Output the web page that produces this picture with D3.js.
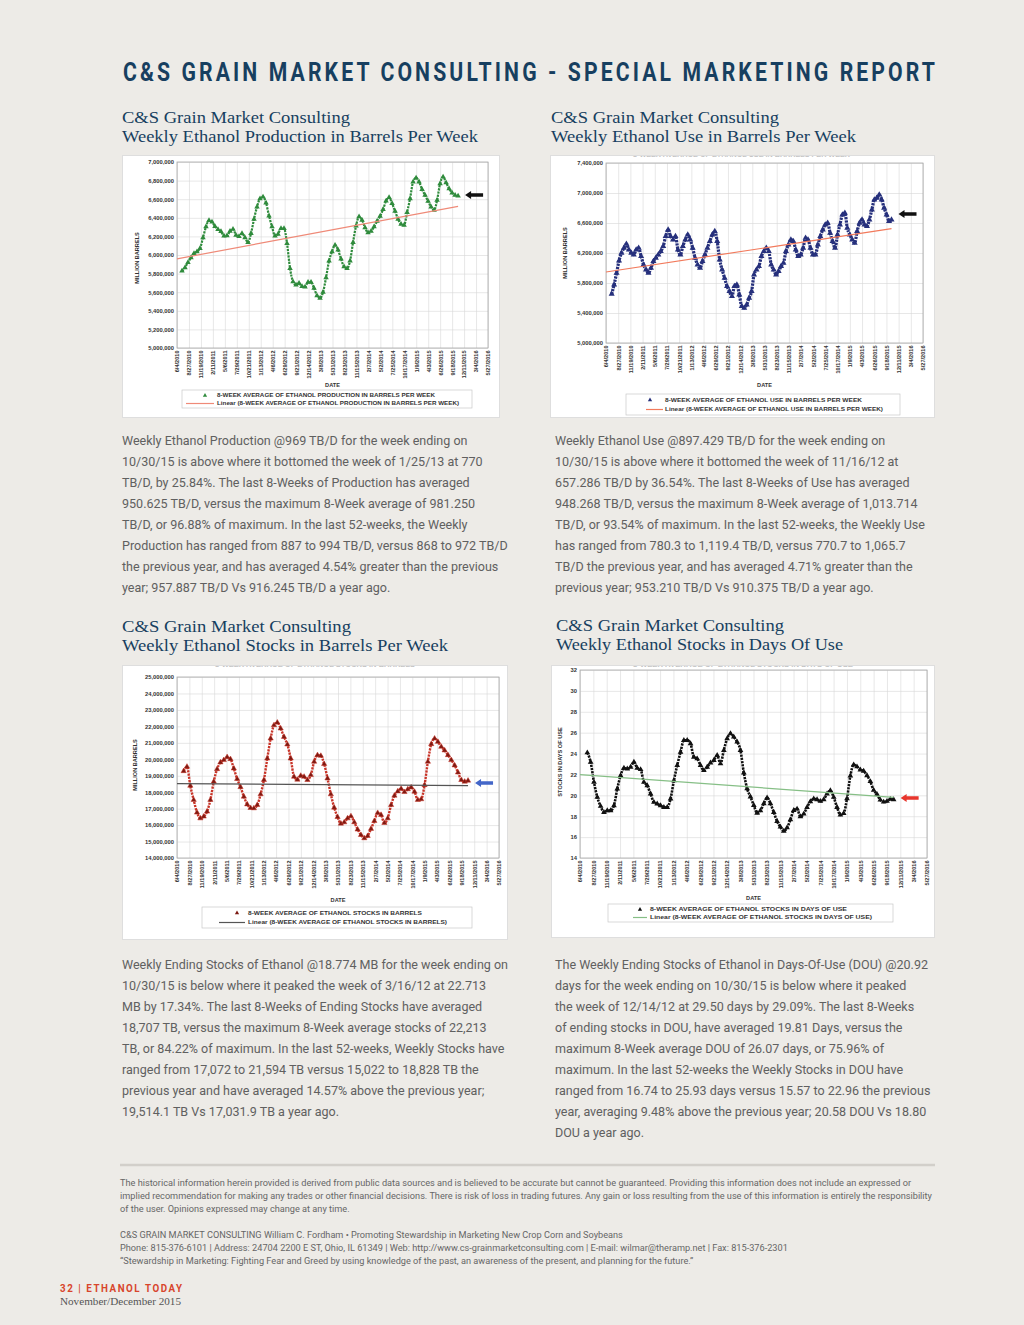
<!DOCTYPE html>
<html>
<head>
<meta charset="utf-8">
<script src="https://cdn.jsdelivr.net/npm/d3@7"></script>
<style>
  body { margin: 0; background: #edebe7; }
  svg { display: block; }
</style>
</head>
<body>
<svg id="page" width="1024" height="1325"></svg>
<script>
// ---- data ----
const dateTicks = ['6/4/2010', '8/27/2010', '11/19/2010', '2/11/2011', '5/6/2011', '7/29/2011', '10/21/2011',
    '1/13/2012', '4/6/2012', '6/29/2012', '9/21/2012', '12/14/2012', '3/8/2013', '5/31/2013', '8/23/2013',
    '11/15/2013', '2/7/2014', '5/2/2014', '7/25/2014', '10/17/2014', '1/9/2015', '4/3/2015', '6/26/2015',
    '9/18/2015', '12/11/2015', '3/4/2016', '5/27/2016'];

// 8-week average production, million barrels per week
const prodStart = '7/9/2010', prodEnd = '10/30/2015';
const prodValues = [5.829, 5.864, 5.921, 5.971, 6.018, 6.036, 6.071, 6.186, 6.304, 6.371,
    6.357, 6.307, 6.275, 6.254, 6.204, 6.207, 6.257, 6.279, 6.214, 6.200,
    6.232, 6.186, 6.136, 6.232, 6.386, 6.518, 6.607, 6.625, 6.561, 6.421,
    6.304, 6.204, 6.225, 6.286, 6.286, 6.125, 5.857, 5.714, 5.679, 5.696,
    5.661, 5.657, 5.707, 5.707, 5.643, 5.564, 5.536, 5.600, 5.757, 5.936,
    6.036, 6.107, 6.054, 5.957, 5.875, 5.857, 5.936, 6.136, 6.314, 6.411,
    6.375, 6.293, 6.239, 6.257, 6.304, 6.364, 6.418, 6.489, 6.582, 6.618,
    6.554, 6.471, 6.386, 6.332, 6.321, 6.457, 6.607, 6.786, 6.829, 6.786,
    6.704, 6.643, 6.579, 6.518, 6.482, 6.589, 6.768, 6.839, 6.779, 6.714,
    6.668, 6.643, 6.636];
const prodTicks = [5.0, 5.2, 5.4, 5.6, 5.8, 6.0, 6.2, 6.4, 6.6, 6.8, 7.0];

// 8-week average use, million barrels per week
const useStart = '7/13/2010', useEnd = '10/23/2015';
const useValues = [5.653, 5.778, 5.933, 6.098, 6.200, 6.267, 6.320, 6.244, 6.200, 6.178,
    6.244, 6.267, 6.156, 6.044, 5.978, 5.933, 6.000, 6.089, 6.133, 6.178,
    6.222, 6.289, 6.422, 6.511, 6.422, 6.378, 6.422, 6.244, 6.178, 6.289,
    6.378, 6.444, 6.378, 6.267, 6.133, 6.044, 6.000, 6.089, 6.178, 6.267,
    6.356, 6.444, 6.489, 6.356, 6.111, 5.978, 5.867, 5.756, 5.689, 5.622,
    5.756, 5.778, 5.644, 5.489, 5.467, 5.511, 5.600, 5.689, 5.911, 5.978,
    6.022, 6.156, 6.222, 6.267, 6.222, 6.044, 5.978, 5.911, 5.956, 6.022,
    6.067, 6.222, 6.311, 6.378, 6.356, 6.244, 6.156, 6.178, 6.267, 6.400,
    6.378, 6.267, 6.178, 6.178, 6.311, 6.422, 6.511, 6.578, 6.600, 6.467,
    6.356, 6.267, 6.444, 6.578, 6.711, 6.733, 6.533, 6.444, 6.378, 6.333,
    6.489, 6.600, 6.644, 6.578, 6.556, 6.644, 6.778, 6.911, 6.933, 6.978,
    6.911, 6.800, 6.711, 6.622, 6.644];
const useTicks = [5.0, 5.4, 5.8, 6.2, 6.6, 7.0, 7.4];

// 8-week average ending stocks, million barrels
const stockStart = '7/19/2010', stockEnd = '10/30/2015';
const stockValues = [19.28, 19.55, 18.39, 17.53, 16.76, 16.41, 16.52, 16.82, 17.53, 18.64,
    19.40, 19.81, 19.95, 20.13, 20.01, 19.44, 18.80, 18.31, 17.73, 17.26,
    17.04, 17.02, 17.22, 17.87, 18.74, 20.05, 21.26, 22.07, 22.23, 21.87,
    21.36, 20.90, 20.05, 18.94, 18.76, 19.00, 18.94, 18.74, 19.04, 19.85,
    20.25, 20.21, 19.71, 18.84, 17.87, 17.06, 16.49, 16.09, 16.17, 16.41,
    16.54, 16.17, 15.73, 15.40, 15.20, 15.34, 15.77, 16.25, 16.74, 16.62,
    16.13, 16.41, 17.22, 17.79, 18.05, 18.21, 18.01, 18.18, 18.29, 18.03,
    17.53, 17.57, 18.43, 19.85, 20.92, 21.26, 21.06, 20.76, 20.54, 20.25,
    19.95, 19.63, 19.20, 18.74, 18.64, 18.70];
const stockTicks = [14, 15, 16, 17, 18, 19, 20, 21, 22, 23, 24, 25];

// 8-week average stocks in days of use
const douStart = '7/20/2010', douEnd = '10/30/2015';
const douValues = [24.08, 23.19, 21.26, 19.82, 18.96, 18.38, 18.54, 18.54, 19.02, 20.62,
    21.90, 22.61, 22.54, 22.71, 23.19, 22.61, 22.48, 21.26, 20.94, 20.14,
    19.34, 19.18, 19.02, 18.86, 18.86, 19.66, 21.42, 22.87, 24.15, 25.27,
    25.27, 24.95, 23.67, 23.51, 22.87, 22.38, 22.71, 23.12, 23.35, 23.83,
    23.03, 24.31, 25.43, 25.91, 25.59, 25.11, 24.31, 22.16, 20.65, 19.85,
    19.05, 18.31, 18.54, 19.21, 19.76, 19.21, 18.38, 17.51, 16.97, 16.58,
    16.90, 17.67, 18.57, 18.70, 17.96, 18.22, 18.86, 19.40, 19.66, 19.59,
    19.44, 19.59, 20.14, 20.46, 19.82, 18.86, 18.12, 18.28, 19.69, 21.87,
    22.93, 22.74, 22.45, 22.32, 21.90, 21.33, 20.49, 20.11, 19.56, 19.37,
    19.44, 19.63, 19.60];
const douTicks = [14, 16, 18, 20, 22, 24, 26, 28, 30, 32];

// level of the arrow beside each chart
const arrowLevels = [6.645, 6.72, 18.56, 19.74];

// ---- page text ----
const headerText = 'C&S GRAIN MARKET CONSULTING - SPECIAL MARKETING REPORT';
const leftTop = [
    'Weekly Ethanol Production @969 TB/D for the week ending on',
    '10/30/15 is above where it bottomed the week of 1/25/13 at 770',
    'TB/D, by 25.84%. The last 8-Weeks of Production has averaged',
    '950.625 TB/D, versus the maximum 8-Week average of 981.250',
    'TB/D, or 96.88% of maximum. In the last 52-weeks, the Weekly',
    'Production has ranged from 887 to 994 TB/D, versus 868 to 972 TB/D',
    'the previous year, and has averaged 4.54% greater than the previous',
    'year; 957.887 TB/D Vs 916.245 TB/D a year ago.'];
const rightTop = [
    'Weekly Ethanol Use @897.429 TB/D for the week ending on',
    '10/30/15 is above where it bottomed the week of 11/16/12 at',
    '657.286 TB/D by 36.54%. The last 8-Weeks of Use has averaged',
    '948.268 TB/D, versus the maximum 8-Week average of 1,013.714',
    'TB/D, or 93.54% of maximum. In the last 52-weeks, the Weekly Use',
    'has ranged from 780.3 to 1,119.4 TB/D, versus 770.7 to 1,065.7',
    'TB/D the previous year, and has averaged 4.71% greater than the',
    'previous year; 953.210 TB/D Vs 910.375 TB/D a year ago.'];
const leftBottom = [
    'Weekly Ending Stocks of Ethanol @18.774 MB for the week ending on',
    '10/30/15 is below where it peaked the week of 3/16/12 at 22.713',
    'MB by 17.34%. The last 8-Weeks of Ending Stocks have averaged',
    '18,707 TB, versus the maximum 8-Week average stocks of 22,213',
    'TB, or 84.22% of maximum. In the last 52-weeks, Weekly Stocks have',
    'ranged from 17,072 to 21,594 TB versus 15,022 to 18,828 TB the',
    'previous year and have averaged 14.57% above the previous year;',
    '19,514.1 TB Vs 17,031.9 TB a year ago.'];
const rightBottom = [
    'The Weekly Ending Stocks of Ethanol in Days-Of-Use (DOU) @20.92',
    'days for the week ending on 10/30/15 is below where it peaked',
    'the week of 12/14/12 at 29.50 days by 29.09%. The last 8-Weeks',
    'of ending stocks in DOU, have averaged 19.81 Days, versus the',
    'maximum 8-Week average DOU of 26.07 days, or 75.96% of',
    'maximum. In the last 52-weeks the Weekly Stocks in DOU have',
    'ranged from 16.74 to 25.93 days versus 15.57 to 22.96 the previous',
    'year, averaging 9.48% above the previous year; 20.58 DOU Vs 18.80',
    'DOU a year ago.'];
const footerLines = [
    'The historical information herein provided is derived from public data sources and is believed to be accurate but cannot be guaranteed. Providing this information does not include an expressed or',
    'implied recommendation for making any trades or other financial decisions. There is risk of loss in trading futures. Any gain or loss resulting from the use of this information is entirely the responsibility',
    'of the user. Opinions expressed may change at any time.',
    '',
    'C&S GRAIN MARKET CONSULTING William C. Fordham \u2022 Promoting Stewardship in Marketing New Crop Corn and Soybeans',
    'Phone: 815-376-6101 | Address: 24704 2200 E ST, Ohio, IL 61349 | Web: http://www.cs-grainmarketconsulting.com | E-mail: wilmar@theramp.net | Fax: 815-376-2301',
    '\u201cStewardship in Marketing: Fighting Fear and Greed by using knowledge of the past, an awareness of the present, and planning for the future.\u201d'];

const SANS = '"Liberation Sans", Arial, sans-serif';
const BODY = 'Roboto, "Liberation Sans", sans-serif';
const SERIF = '"Liberation Serif", "Times New Roman", serif';
const NAVY = '#173f60';

const parse = d3.timeParse('%-m/%-d/%Y');
const svg = d3.select('#page');
const defs = svg.append('defs');

svg.append('rect').attr('width', 1024).attr('height', 1325).attr('fill', '#edebe7');

// header, drawn condensed
svg.append('g')
    .attr('transform', 'translate(123,81) scale(0.8,1)')
    .append('text')
    .attr('font-family', 'Roboto, sans-serif')
    .attr('font-weight', 700)
    .attr('font-size', 26.5)
    .attr('fill', NAVY)
    .attr('textLength', 812 / 0.8)
    .attr('lengthAdjust', 'spacing')
    .text(headerText);

function drawTitle(x, y, lines, widths) {
    lines.forEach((t, i) => {
        svg.append('text')
            .attr('x', x).attr('y', y + i * 19)
            .attr('font-family', SERIF).attr('font-size', 17)
            .attr('fill', NAVY)
            .attr('textLength', widths[i]).attr('lengthAdjust', 'spacingAndGlyphs')
            .text(t);
    });
}

function drawChart(c) {
    const clipId = 'clip-' + c.id;
    defs.append('clipPath').attr('id', clipId)
        .append('rect').attr('x', c.box.x).attr('y', c.box.y).attr('width', c.box.w).attr('height', c.box.h);

    const g = svg.append('g').attr('clip-path', `url(#${clipId})`);
    g.append('rect')
        .attr('x', c.box.x).attr('y', c.box.y).attr('width', c.box.w).attr('height', c.box.h)
        .attr('fill', '#fff');

    if (c.ghost) {
        g.append('text')
            .attr('x', c.ghost.x).attr('y', c.box.y + 1.5)
            .attr('font-family', SANS).attr('font-weight', 700).attr('font-size', 8)
            .attr('fill', '#c4c4c4')
            .attr('textLength', c.ghost.w).attr('lengthAdjust', 'spacingAndGlyphs')
            .text(c.legend[0]);
    }

    const p = c.plot;
    const x = d3.scaleTime()
        .domain([parse(dateTicks[0]), parse(dateTicks[dateTicks.length - 1])])
        .range([p.x, p.x + p.w]);
    const y = d3.scaleLinear()
        .domain(d3.extent(c.ticks))
        .range([p.y + p.h, p.y]);

    // y axis with horizontal grid
    const ya = g.append('g')
        .attr('transform', `translate(${p.x},0)`)
        .call(d3.axisLeft(y).tickValues(c.ticks).tickSize(-p.w).tickPadding(3).tickFormat(c.fmt));
    ya.select('.domain').remove();
    ya.selectAll('line').attr('stroke', '#d7d7d7').attr('stroke-width', 0.6);
    ya.selectAll('text')
        .attr('font-family', SANS).attr('font-weight', 700).attr('font-size', 5.8).attr('fill', '#333');

    // x axis with vertical grid, rotated date labels
    const xa = g.append('g')
        .attr('transform', `translate(0,${p.y + p.h})`)
        .call(d3.axisBottom(x).tickValues(dateTicks.map(parse)).tickSize(-p.h).tickFormat((d, i) => dateTicks[i]));
    xa.select('.domain').remove();
    xa.selectAll('line').attr('stroke', '#d7d7d7').attr('stroke-width', 0.6);
    xa.selectAll('text')
        .attr('transform', 'rotate(-90)')
        .attr('x', -2.5).attr('y', 0).attr('dy', '0.34em')
        .style('text-anchor', 'end')
        .attr('font-family', SANS).attr('font-weight', 700).attr('font-size', 5.6).attr('fill', '#333');

    g.append('rect')
        .attr('x', p.x).attr('y', p.y).attr('width', p.w).attr('height', p.h)
        .attr('fill', 'none').attr('stroke', '#a8a8a8').attr('stroke-width', 0.8);

    // axis titles
    g.append('text')
        .attr('transform', `translate(${c.yTitle.x},${c.yTitle.y}) rotate(-90)`)
        .attr('text-anchor', 'middle').attr('dy', '0.35em')
        .attr('font-family', SANS).attr('font-weight', 700).attr('font-size', 5.6).attr('fill', '#333')
        .text(c.yLabel);
    g.append('text')
        .attr('x', p.x + p.w / 2).attr('y', c.dateY)
        .attr('text-anchor', 'middle').attr('dy', '0.35em')
        .attr('font-family', SANS).attr('font-weight', 700).attr('font-size', 5.6).attr('fill', '#333')
        .text('DATE');

    // series, evenly spaced between first and last week read
    const t0 = parse(c.start).getTime();
    const t1 = parse(c.end).getTime();
    const pts = c.values.map((v, i) => ({ t: new Date(t0 + (t1 - t0) * i / (c.values.length - 1)), v }));

    // least-squares trend, as the spreadsheet "Linear" trendline
    const mt = d3.mean(pts, d => +d.t);
    const mv = d3.mean(pts, d => d.v);
    const slope = d3.sum(pts, d => (d.t - mt) * (d.v - mv)) / d3.sum(pts, d => (d.t - mt) ** 2);
    const fit = t => mv + slope * (t - mt);

    // dense weekly markers read as a thick band; a line keeps it joined up
    g.append('path')
        .datum(pts)
        .attr('d', d3.line().x(d => x(d.t)).y(d => y(d.v)).curve(d3.curveMonotoneX))
        .attr('fill', 'none')
        .attr('stroke', c.markerStroke || c.marker)
        .attr('stroke-width', c.lineW)
        .attr('stroke-dasharray', '2.2,1')
        .attr('stroke-linejoin', 'round');

    const tri = d3.symbol().type(d3.symbolTriangle).size(c.markerSize);
    g.append('g').selectAll('path')
        .data(pts)
        .join('path')
        .attr('transform', d => `translate(${x(d.t)},${y(d.v)})`)
        .attr('d', tri)
        .attr('fill', c.marker)
        .attr('stroke', c.markerStroke || 'none')
        .attr('stroke-width', 0.5);

    const tA = x.domain()[0];
    const tB = pts[pts.length - 1].t;
    g.append('line')
        .attr('x1', x(tA)).attr('y1', y(fit(+tA)))
        .attr('x2', x(tB)).attr('y2', y(fit(+tB)))
        .attr('stroke', c.trend).attr('stroke-width', 1.2);

    // arrow pointing at the latest reading
    const ax = x(tB) + 7;
    const ay = y(c.arrowLevel);
    g.append('path')
        .attr('d', `M${ax},${ay} l6,-4 v2.2 h12 v3.6 h-12 v2.2 Z`)
        .attr('fill', c.arrow);

    // legend
    const L = c.leg;
    g.append('rect')
        .attr('x', L.x).attr('y', L.y).attr('width', L.w).attr('height', L.h)
        .attr('fill', '#fff').attr('stroke', '#c8c8c8').attr('stroke-width', 0.7);
    g.append('path')
        .attr('transform', `translate(${L.mx},${L.rows[0]})`)
        .attr('d', d3.symbol().type(d3.symbolTriangle).size(8))
        .attr('fill', c.marker);
    g.append('line')
        .attr('x1', L.lx[0]).attr('x2', L.lx[1]).attr('y1', L.rows[1]).attr('y2', L.rows[1])
        .attr('stroke', c.trend).attr('stroke-width', 1.2);
    [c.legend[0], 'Linear (' + c.legend[0] + ')'].forEach((t, i) => {
        g.append('text')
            .attr('x', L.tx).attr('y', L.rows[i]).attr('dy', '0.35em')
            .attr('font-family', SANS).attr('font-weight', 700).attr('font-size', 5.6).attr('fill', '#333')
            .attr('textLength', L.tw[i]).attr('lengthAdjust', 'spacingAndGlyphs')
            .text(t);
    });

    g.append('rect')
        .attr('x', c.box.x + 0.5).attr('y', c.box.y + 0.5).attr('width', c.box.w - 1).attr('height', c.box.h - 1)
        .attr('fill', 'none').attr('stroke', '#dedede').attr('stroke-width', 1);
}

const barrels = d => d3.format(',')(Math.round(d * 1e6));

drawTitle(122, 122.5, ['C&S Grain Market Consulting', 'Weekly Ethanol Production in Barrels Per Week'], [228, 356]);
drawTitle(551, 122.5, ['C&S Grain Market Consulting', 'Weekly Ethanol Use in Barrels Per Week'], [228, 305]);
drawTitle(122, 632, ['C&S Grain Market Consulting', 'Weekly Ethanol Stocks in Barrels Per Week'], [229, 326]);
drawTitle(556, 631, ['C&S Grain Market Consulting', 'Weekly Ethanol Stocks in Days Of Use'], [228, 287]);

drawChart({
    id: 'prod', box: { x: 122, y: 155, w: 378, h: 263 }, plot: { x: 177, y: 162, w: 311, h: 186 },
    values: prodValues, start: prodStart, end: prodEnd, ticks: prodTicks, fmt: barrels,
    yLabel: 'MILLION BARRELS', yTitle: { x: 137, y: 258 }, dateY: 385,
    marker: '#2f8b3c', markerSize: 13, lineW: 2.2, trend: '#ef8a78', arrow: '#111', arrowLevel: arrowLevels[0],
    legend: ['8-WEEK AVERAGE OF ETHANOL PRODUCTION IN BARRELS PER WEEK'],
    leg: { x: 182, y: 390, w: 290, h: 18, mx: 205, lx: [186, 214], tx: 217, rows: [395.5, 403.5], tw: [218, 242] }
});
drawChart({
    id: 'use', box: { x: 550, y: 155, w: 385, h: 263 }, plot: { x: 606, y: 163, w: 317, h: 180 },
    values: useValues, start: useStart, end: useEnd, ticks: useTicks, fmt: barrels,
    yLabel: 'MILLION BARRELS', yTitle: { x: 565, y: 253 }, dateY: 385,
    marker: '#26307c', markerSize: 16, lineW: 3.2, trend: '#f27a5c', arrow: '#111', arrowLevel: arrowLevels[1],
    legend: ['8-WEEK AVERAGE OF ETHANOL USE IN BARRELS PER WEEK'],
    ghost: { x: 633, w: 217 },
    leg: { x: 626, y: 394, w: 274, h: 21, mx: 650, lx: [646, 663], tx: 665, rows: [400, 409.5], tw: [197, 218] }
});
drawChart({
    id: 'stock', box: { x: 122, y: 665, w: 386, h: 275 }, plot: { x: 177, y: 677, w: 322, h: 181 },
    values: stockValues, start: stockStart, end: stockEnd, ticks: stockTicks, fmt: barrels,
    yLabel: 'MILLION BARRELS', yTitle: { x: 135, y: 765 }, dateY: 900,
    marker: '#7c1a12', markerStroke: '#c83428', markerSize: 12, lineW: 2.4, trend: '#555', arrow: '#4366c8',
    arrowLevel: arrowLevels[2],
    legend: ['8-WEEK AVERAGE OF ETHANOL STOCKS IN BARRELS'],
    ghost: { x: 215, w: 200 },
    leg: { x: 202, y: 907, w: 270, h: 21, mx: 237, lx: [219, 245], tx: 248, rows: [913, 922.5], tw: [174, 199] }
});
drawChart({
    id: 'dou', box: { x: 551, y: 665, w: 384, h: 273 }, plot: { x: 580, y: 670, w: 347, h: 188 },
    values: douValues, start: douStart, end: douEnd, ticks: douTicks, fmt: d3.format('d'),
    yLabel: 'STOCKS IN DAYS OF USE', yTitle: { x: 560, y: 762 }, dateY: 898,
    marker: '#111', markerSize: 14, lineW: 2.6, trend: '#86bf86', arrow: '#e8352c', arrowLevel: arrowLevels[3],
    legend: ['8-WEEK AVERAGE OF ETHANOL STOCKS IN DAYS OF USE'],
    ghost: { x: 633, w: 220 },
    leg: { x: 608, y: 904, w: 285, h: 18, mx: 640, lx: [633, 647], tx: 650, rows: [909.5, 917.5], tw: [197, 222] }
});

// body paragraphs: size the font so the widest line matches the page
const probe = svg.append('text').attr('font-family', BODY).attr('font-size', 12).text(leftTop[5]);
const bodySize = 12 * 386 / probe.node().getComputedTextLength();
probe.remove();

function paragraph(lines, x, y0) {
    svg.append('g').selectAll('text')
        .data(lines)
        .join('text')
        .attr('x', x).attr('y', (d, i) => y0 + i * 21.05)
        .attr('font-family', BODY).attr('font-size', bodySize).attr('fill', '#606060')
        .text(d => d);
}
paragraph(leftTop, 122, 444.5);
paragraph(rightTop, 555, 444.5);
paragraph(leftBottom, 122, 968.5);
paragraph(rightBottom, 555, 968.5);

// footer
svg.append('line')
    .attr('x1', 120).attr('x2', 935).attr('y1', 1165).attr('y2', 1165)
    .attr('stroke', '#d2cfca').attr('stroke-width', 2.5);

const fprobe = svg.append('text').attr('font-family', BODY).attr('font-size', 9).text(footerLines[1]);
const footSize = 9 * 813 / fprobe.node().getComputedTextLength();
fprobe.remove();
svg.append('g').selectAll('text')
    .data(footerLines)
    .join('text')
    .attr('x', 120).attr('y', (d, i) => 1186 + i * 13)
    .attr('font-family', BODY).attr('font-size', footSize).attr('fill', '#666')
    .text(d => d);

svg.append('g')
    .attr('transform', 'translate(60,1292) scale(0.85,1)')
    .append('text')
    .attr('font-family', 'Roboto, sans-serif').attr('font-weight', 700).attr('font-size', 11.5)
    .attr('fill', '#d8452b')
    .attr('textLength', 122 / 0.85).attr('lengthAdjust', 'spacing')
    .text('32 | ETHANOL TODAY');
svg.append('text')
    .attr('x', 60).attr('y', 1305)
    .attr('font-family', SERIF).attr('font-size', 11).attr('fill', '#555')
    .attr('textLength', 121).attr('lengthAdjust', 'spacingAndGlyphs')
    .text('November/December 2015');
</script>
</body>
</html>
